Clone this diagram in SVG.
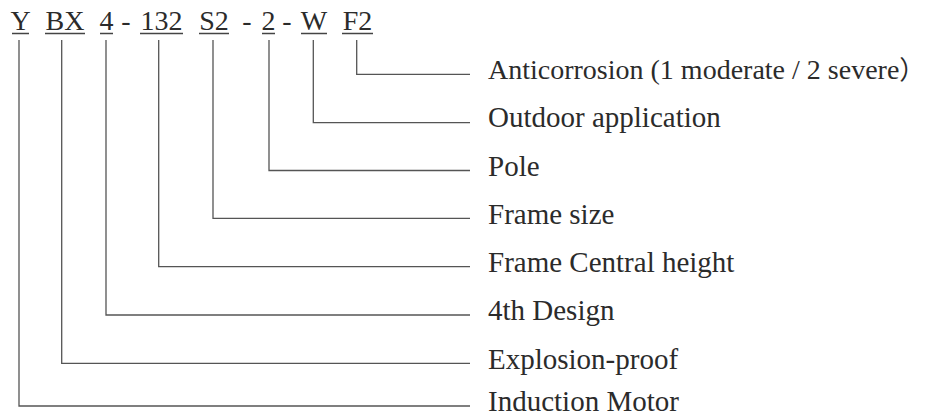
<svg xmlns="http://www.w3.org/2000/svg" width="934" height="416" viewBox="0 0 934 416">
<style>
text{font-family:"Liberation Serif","Times New Roman",serif;font-size:28px;fill:#2b2b2b}
.c{text-anchor:middle}
.l{font-size:29px}
.u{stroke:#444;stroke-width:1.3;fill:none}
.k{stroke:#555;stroke-width:1.3;fill:none}
</style>
<rect width="934" height="416" fill="#fff"/>
<g id="code">
<text class="c" x="20.5" y="30">Y</text>
<text class="c" x="65" y="30">BX</text>
<text class="c" x="106.5" y="30">4</text>
<text class="c" x="126" y="30">-</text>
<text class="c" x="161.5" y="30">132</text>
<text class="c" x="214" y="30">S2</text>
<text class="c" x="247" y="30">-</text>
<text class="c" x="268.5" y="30">2</text>
<text class="c" x="287" y="30">-</text>
<text class="c" x="314" y="30">W</text>
<text class="c" x="357.5" y="30">F2</text>
<path class="u" d="M12 33.5H29M45 33.5H85M100 33.5H113M140 33.5H183M199 33.5H229M262 33.5H275M301 33.5H327M342 33.5H373"/>
</g>
<g id="connectors">
<path class="k" d="M356.7 40V74.3H470"/>
<path class="k" d="M313.3 40V122.7H470"/>
<path class="k" d="M269 40V170.5H470"/>
<path class="k" d="M213 40V218.3H470"/>
<path class="k" d="M158.7 40V266.7H470"/>
<path class="k" d="M106 40V315H470"/>
<path class="k" d="M61.7 40V363.3H470"/>
<path class="k" d="M19 40V406H470"/>
</g>
<g id="n-anticorrosion"><text x="488" y="79">Anticorrosion (1 moderate / 2 severe<tspan font-family="'Noto Sans CJK SC',sans-serif" font-size="26">）</tspan></text></g>
<g id="n-outdoor"><text class="l" x="488" y="127">Outdoor application</text></g>
<g id="n-pole"><text class="l" x="488" y="176">Pole</text></g>
<g id="n-framesize"><text class="l" x="488" y="223.5">Frame size</text></g>
<g id="n-central"><text class="l" x="488" y="271.5">Frame Central height</text></g>
<g id="n-design"><text class="l" x="488" y="320">4th Design</text></g>
<g id="n-explosion"><text class="l" x="488" y="368.5">Explosion-proof</text></g>
<g id="n-induction"><text class="l" x="488" y="411">Induction Motor</text></g>
</svg>
